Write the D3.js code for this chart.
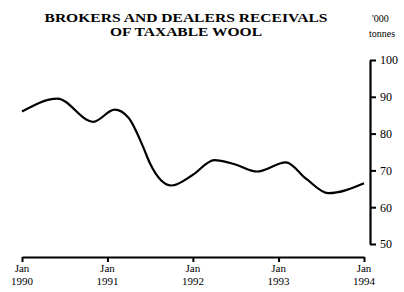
<!DOCTYPE html>
<html>
<head>
<meta charset="utf-8">
<script src="https://cdn.jsdelivr.net/npm/d3@7"></script>
<style>
  body { margin: 0; background: #fff; }
  svg { display: block; font-family: "Liberation Serif", "DejaVu Serif", serif; }
</style>
</head>
<body>
<svg id="chart" width="404" height="292"></svg>
<script>
// months since Jan 1990 where the curve was read, and the receivals ('000 tonnes)
var months = [0, 5, 10, 13, 15, 17, 18, 21, 24, 27, 30, 33, 37, 40, 43, 48];
var receivals = [86.0, 89.5, 83.2, 86.5, 84.3, 76.6, 72.0, 65.9, 68.8, 72.8, 71.6, 69.7, 72.2, 67.6, 63.8, 66.5];
var yTicks = [50, 60, 70, 80, 90, 100];
var xTickYears = [1990, 1991, 1992, 1993, 1994];
var titleLines = ["BROKERS AND DEALERS RECEIVALS", "OF TAXABLE WOOL"];
var titleWidths = [283, 152];

var svg = d3.select("#chart");

var x = d3.scaleTime()
    .domain([new Date(1990, 0, 1), new Date(1994, 0, 1)])
    .range([22, 364]);

var y = d3.scaleLinear()
    .domain([50, 100])
    .range([244, 60]);

var data = months.map((m, i) => ({date: new Date(1990, m, 1), value: receivals[i]}));

// title (wide bold serif, stretched to the original widths)
svg.append("g")
    .attr("font-weight", "bold")
    .attr("font-size", 13.5)
    .attr("text-anchor", "middle")
    .selectAll("text")
    .data(titleLines)
    .join("text")
    .attr("x", 186)
    .attr("y", (d, i) => 22 + i * 14)
    .attr("textLength", (d, i) => titleWidths[i])
    .attr("lengthAdjust", "spacingAndGlyphs")
    .text(d => d);

// units
svg.append("text").attr("x", 372).attr("y", 22).attr("font-size", 10).text("'000");
svg.append("text").attr("x", 369).attr("y", 37).attr("font-size", 10).text("tonnes");

// y axis on the right, ticks pointing right
var yAxis = svg.append("g")
    .attr("transform", "translate(370,0)")
    .call(d3.axisRight(y).tickValues(yTicks).tickSize(6).tickSizeOuter(0).tickPadding(4));
yAxis.select(".domain").attr("stroke-width", 2.2);
yAxis.selectAll(".tick line").attr("stroke-width", 2);
yAxis.selectAll(".tick text").attr("font-size", 12).attr("font-family", "Liberation Serif");

// x axis at the bottom, ticks pointing down
var xAxis = svg.append("g")
    .attr("transform", "translate(0,257)")
    .call(d3.axisBottom(x)
        .tickValues(xTickYears.map(yr => new Date(yr, 0, 1)))
        .tickSize(5).tickSizeOuter(0).tickFormat(""));
xAxis.select(".domain").attr("stroke-width", 2);
xAxis.selectAll(".tick line").attr("stroke-width", 2);

var xLabels = svg.append("g")
    .attr("font-size", 11)
    .attr("text-anchor", "middle")
    .selectAll("g")
    .data(xTickYears)
    .join("g")
    .attr("transform", d => `translate(${x(new Date(d, 0, 1))},0)`);
xLabels.append("text").attr("y", 272).text("Jan");
xLabels.append("text").attr("y", 285).text(d => d);

// series line
var line = d3.line()
    .x(d => x(d.date))
    .y(d => y(d.value))
    .curve(d3.curveMonotoneX);

svg.append("path")
    .datum(data)
    .attr("fill", "none")
    .attr("stroke", "#000")
    .attr("stroke-width", 2.2)
    .attr("d", line);
</script>
</body>
</html>
